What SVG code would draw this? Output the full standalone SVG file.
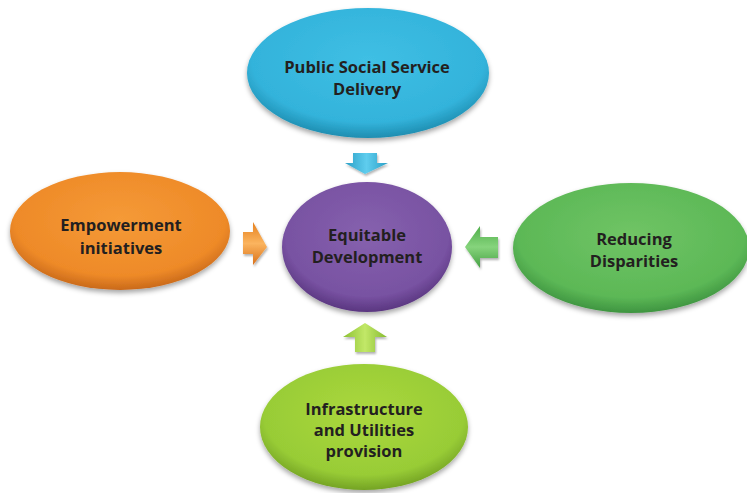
<svg xmlns="http://www.w3.org/2000/svg" width="747" height="493" viewBox="0 0 747 493">
<style>
.lbl{font-family:"Open Sans","Liberation Sans",Arial,sans-serif;font-weight:bold;font-size:16.5px;fill:#231f20;text-anchor:middle}
.node ellipse{filter:url(#sh)}
.arr{filter:url(#ash)}
</style>
<defs>
<filter id="sh" x="-10%" y="-10%" width="120%" height="130%">
<feDropShadow dx="0" dy="3" stdDeviation="2.5" flood-color="#000" flood-opacity="0.35"/>
</filter>
<filter id="ash" x="-20%" y="-20%" width="150%" height="150%">
<feDropShadow dx="1" dy="2" stdDeviation="1.2" flood-color="#000" flood-opacity="0.3"/>
</filter>
<radialGradient id="gBlue" cx="50%" cy="40%" r="60%">
<stop offset="0" stop-color="#3fbfe4"/><stop offset="0.8" stop-color="#33b3db"/><stop offset="1" stop-color="#1e8db0"/>
</radialGradient>
<radialGradient id="gOrange" cx="50%" cy="40%" r="60%">
<stop offset="0" stop-color="#f59a37"/><stop offset="0.8" stop-color="#ee8a28"/><stop offset="1" stop-color="#c9691a"/>
</radialGradient>
<radialGradient id="gPurple" cx="50%" cy="40%" r="60%">
<stop offset="0" stop-color="#8661ae"/><stop offset="0.8" stop-color="#7852a2"/><stop offset="1" stop-color="#5a3680"/>
</radialGradient>
<radialGradient id="gGreen" cx="50%" cy="40%" r="60%">
<stop offset="0" stop-color="#70c465"/><stop offset="0.8" stop-color="#5cb856"/><stop offset="1" stop-color="#3e9440"/>
</radialGradient>
<radialGradient id="gLime" cx="50%" cy="40%" r="60%">
<stop offset="0" stop-color="#abd83d"/><stop offset="0.8" stop-color="#98cc36"/><stop offset="1" stop-color="#74a324"/>
</radialGradient>
<linearGradient id="aBlue" x1="0" y1="0" x2="1" y2="0"><stop offset="0" stop-color="#2a9fc6"/><stop offset="0.5" stop-color="#5fcdee"/><stop offset="1" stop-color="#2a9fc6"/></linearGradient>
<linearGradient id="aOrange" x1="0" y1="0" x2="0" y2="1"><stop offset="0" stop-color="#e5801e"/><stop offset="0.5" stop-color="#fbb45e"/><stop offset="1" stop-color="#d9711a"/></linearGradient>
<linearGradient id="aGreen" x1="0" y1="0" x2="0" y2="1"><stop offset="0" stop-color="#4fae4a"/><stop offset="0.5" stop-color="#86d47c"/><stop offset="1" stop-color="#45a043"/></linearGradient>
<linearGradient id="aLime" x1="0" y1="0" x2="1" y2="0"><stop offset="0" stop-color="#8cc132"/><stop offset="0.5" stop-color="#c2e868"/><stop offset="1" stop-color="#86bb2f"/></linearGradient>
</defs>

<g id="connectors">
<polygon class="arr" points="353,153 377,153 377,163 388,163 365,174 345,163 353,163" fill="url(#aBlue)"/>
<polygon class="arr" points="243,232 253,232 253,222 267,247 253,265 253,254 243,254" fill="url(#aOrange)"/>
<polygon class="arr" points="498,237 480,237 480,226 465,247 480,268 480,258 498,258" fill="url(#aGreen)"/>
<polygon class="arr" points="355,352 375,352 375,337 387,337 365,323 343,337 355,337" fill="url(#aLime)"/>
</g>

<g id="n-public" class="node">
<ellipse cx="368" cy="73" rx="121" ry="65" fill="url(#gBlue)"/>
<text class="lbl" x="367" y="73">Public Social Service</text>
<text class="lbl" x="367" y="95">Delivery</text>
</g>

<g id="n-empower" class="node">
<ellipse cx="120" cy="231" rx="110" ry="59" fill="url(#gOrange)"/>
<text class="lbl" x="121" y="231">Empowerment</text>
<text class="lbl" x="121" y="254">initiatives</text>
</g>

<g id="n-equitable" class="node">
<ellipse cx="367" cy="247" rx="85" ry="65" fill="url(#gPurple)"/>
<text class="lbl" x="367" y="241">Equitable</text>
<text class="lbl" x="367" y="263">Development</text>
</g>

<g id="n-reducing" class="node">
<ellipse cx="631" cy="248" rx="118" ry="65" fill="url(#gGreen)"/>
<text class="lbl" x="634" y="245">Reducing</text>
<text class="lbl" x="634" y="267">Disparities</text>
</g>

<g id="n-infra" class="node">
<ellipse cx="364" cy="427" rx="104" ry="63" fill="url(#gLime)"/>
<text class="lbl" x="364" y="415">Infrastructure</text>
<text class="lbl" x="364" y="436">and Utilities</text>
<text class="lbl" x="364" y="457">provision</text>
</g>
</svg>
